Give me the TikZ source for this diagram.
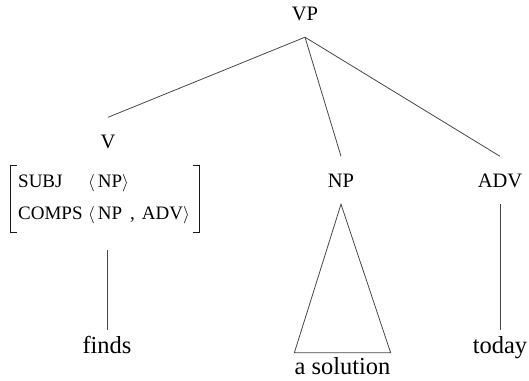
\documentclass[tikz,border=0pt]{standalone}
\usepackage{fontspec}
\setmainfont{Liberation Serif}
\begin{document}
\begin{tikzpicture}[x=1pt,y=-1pt,
  cat/.style={font=\fontsize{20.5}{24}\selectfont, inner xsep=0pt, inner ysep=17pt,
              text height=13.5pt, text depth=0pt, anchor=base},
  word/.style={font=\fontsize{24.5}{29}\selectfont, inner xsep=0pt, inner ysep=6pt,
               text height=17pt, text depth=0pt, anchor=base},
  feat/.style={font=\fontsize{19}{23}\selectfont, inner sep=0pt, anchor=base west},
  branch/.style={draw=black!72, line width=0.8pt},
  avmbar/.style={draw=black!90, line width=1.8pt},
  avmtick/.style={draw=black!90, line width=1pt},
]
\useasboundingbox (0,0) rectangle (529,380);

% category labels
\node[cat] (vp)  at (305,20)  {VP};
\node[cat] (v)   at (108,148) {V};
\node[cat] (np)  at (341,187) {NP};
\node[cat] (adv) at (500,187) {ADV};

% attribute-value matrix under V
\node[feat] (subj)   at (18,187) {SUBJ};
\node[feat] (subjv)  at (88,187) {$\bigl\langle\,$NP$\bigr\rangle$};
\node[feat] (comps)  at (18,219) {COMPS};
\node[feat] (compsv) at (88,219) {$\bigl\langle\,$NP\hspace{8pt},\hspace{7pt}ADV$\bigr\rangle$};
\draw[avmbar]  (10.5,164.5) -- (10.5,232.5);
\draw[avmtick] (10,165) -- (17,165) (10,232) -- (17,232);
\draw[avmbar]  (199.5,164.5) -- (199.5,232.5);
\draw[avmtick] (200,165) -- (193,165) (200,232) -- (193,232);
\coordinate (vfoot) at (107,250);

% words
\node[word] (finds) at (107,353) {finds};
\node[word, inner ysep=4pt] (sol) at (342.5,374) {a solution};
\node[word] (today) at (500,353) {today};

% branches
\draw[branch] (vp.south) -- (v.north);
\draw[branch] (vp.south) -- (np.north);
\draw[branch] (vp.south) -- (adv.north);
\draw[branch] (vfoot) -- (finds.north);
\draw[branch] (np.south) -- (sol.north east) -- (sol.north west) -- cycle;
\draw[branch] (adv.south) -- (today.north);
\end{tikzpicture}
\end{document}
